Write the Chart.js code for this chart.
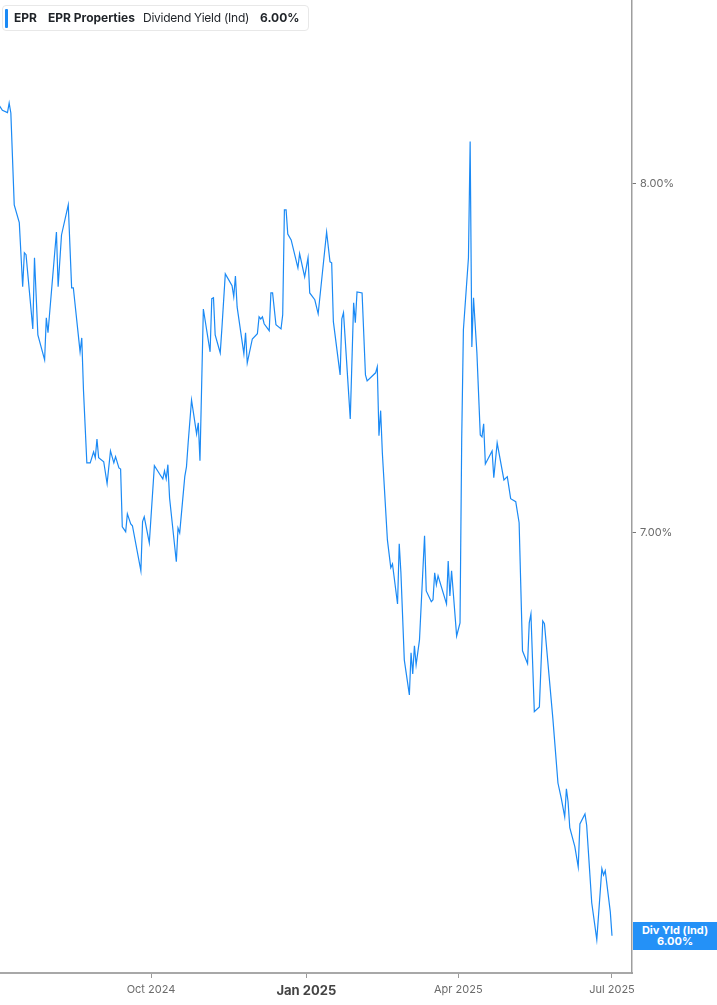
<!DOCTYPE html>
<html>
<head>
<meta charset="utf-8">
<script src="https://cdn.jsdelivr.net/npm/chart.js@4.4.1/dist/chart.umd.min.js"></script>
<style>
  html, body { margin: 0; padding: 0; background: #fff; }
  #wrap { position: relative; width: 717px; height: 1005px; }
  #legend { position: absolute; left: 2px; top: 5px; height: 24px; width: 305px; border: 1px solid #e8e8e8; border-radius: 4px; background: #fff;
    font-family: Inter, "Noto Sans", sans-serif; font-size: 12px; color: #1f2328; line-height: 24px; white-space: nowrap; box-sizing: content-box; }
  #legend .bar { position: absolute; left: 2px; top: 3px; width: 3px; height: 19px; background: #1b8af5; border-radius: 1px; }
  #legend span { position: absolute; top: 0; }
  #valbox { position: absolute; width: 84px; height: 28px; background: #2491f7; color: #fff; font-family: Inter, "Noto Sans", sans-serif;
    font-size: 11px; font-weight: 700; text-align: center; line-height: 11px; padding-top: 3px; box-sizing: border-box; }
</style>
</head>
<body>
<div id="wrap">
  <canvas id="c" width="717" height="1005"></canvas>
  <div id="legend"><div class="bar"></div></div>
  <div id="valbox"></div>
</div>
<script>
const ticker = 'EPR';
const companyName = 'EPR Properties';
const metricName = 'Dividend Yield (Ind)';
const metricShort = 'Div Yld (Ind)';

const dates = [
'2024-07-03','2024-07-05','2024-07-08','2024-07-09','2024-07-10','2024-07-12','2024-07-15','2024-07-17','2024-07-18','2024-07-19',
'2024-07-23','2024-07-24','2024-07-26','2024-07-30','2024-07-31','2024-08-01','2024-08-06','2024-08-07','2024-08-09','2024-08-13',
'2024-08-15','2024-08-16','2024-08-20','2024-08-21','2024-08-22','2024-08-24','2024-08-26','2024-08-28','2024-08-29','2024-08-30',
'2024-08-31','2024-09-03','2024-09-05','2024-09-07','2024-09-09','2024-09-10','2024-09-12','2024-09-13','2024-09-14','2024-09-16',
'2024-09-17','2024-09-19','2024-09-20','2024-09-25','2024-09-26','2024-09-27','2024-09-30','2024-10-03','2024-10-06','2024-10-08',
'2024-10-09','2024-10-10','2024-10-11','2024-10-12','2024-10-16','2024-10-17','2024-10-18','2024-10-21','2024-10-22','2024-10-23',
'2024-10-25','2024-10-28','2024-10-29','2024-10-30','2024-11-01','2024-11-05','2024-11-06','2024-11-07','2024-11-08','2024-11-11',
'2024-11-12','2024-11-14','2024-11-18','2024-11-19','2024-11-20','2024-11-21','2024-11-25','2024-11-26','2024-11-27','2024-11-30',
'2024-12-03','2024-12-04','2024-12-05','2024-12-06','2024-12-07','2024-12-10','2024-12-11','2024-12-12','2024-12-14','2024-12-17',
'2024-12-18','2024-12-19','2024-12-20','2024-12-21','2024-12-23','2024-12-27','2024-12-28','2024-12-31','2025-01-02','2025-01-03',
'2025-01-06','2025-01-08','2025-01-13','2025-01-15','2025-01-16','2025-01-17','2025-01-21','2025-01-22','2025-01-23','2025-01-27',
'2025-01-29','2025-01-30','2025-01-31','2025-02-03','2025-02-05','2025-02-06','2025-02-11','2025-02-12','2025-02-13','2025-02-14',
'2025-02-15','2025-02-18','2025-02-20','2025-02-21','2025-02-24','2025-02-25','2025-02-26','2025-02-28','2025-03-03','2025-03-04',
'2025-03-05','2025-03-06','2025-03-07','2025-03-09','2025-03-12','2025-03-13','2025-03-16','2025-03-17','2025-03-18','2025-03-19',
'2025-03-20','2025-03-25','2025-03-26','2025-03-27','2025-03-28','2025-03-31','2025-04-02','2025-04-03','2025-04-04','2025-04-07',
'2025-04-08','2025-04-09','2025-04-10','2025-04-12','2025-04-14','2025-04-15','2025-04-16','2025-04-17','2025-04-21','2025-04-22',
'2025-04-24','2025-04-28','2025-04-30','2025-05-02','2025-05-05','2025-05-07','2025-05-09','2025-05-12','2025-05-13','2025-05-14',
'2025-05-16','2025-05-19','2025-05-21','2025-05-22','2025-05-27','2025-05-30','2025-06-01','2025-06-03','2025-06-04','2025-06-05',
'2025-06-06','2025-06-09','2025-06-11','2025-06-12','2025-06-15','2025-06-16','2025-06-19','2025-06-22','2025-06-25','2025-06-26',
'2025-06-27','2025-06-30','2025-07-01'
];

const yields = [
8.245,8.228,8.221,8.251,8.220,7.936,7.882,7.691,7.792,7.786,
7.568,7.777,7.551,7.479,7.600,7.557,7.854,7.691,7.845,7.936,
7.688,7.688,7.502,7.542,7.394,7.190,7.190,7.220,7.204,7.256,
7.204,7.193,7.133,7.223,7.190,7.207,7.176,7.173,7.016,7.003,
7.051,7.024,7.019,6.899,7.030,7.043,6.973,7.182,7.160,7.146,
7.168,7.146,7.185,7.094,6.923,7.013,7.000,7.152,7.179,7.245,
7.365,7.270,7.301,7.196,7.626,7.502,7.656,7.659,7.551,7.499,
7.571,7.729,7.694,7.662,7.723,7.632,7.496,7.557,7.470,7.539,
7.554,7.603,7.597,7.603,7.583,7.563,7.673,7.673,7.580,7.568,
7.609,7.921,7.921,7.848,7.830,7.747,7.789,7.720,7.777,7.673,
7.653,7.612,7.854,7.765,7.762,7.589,7.436,7.597,7.615,7.312,
7.644,7.586,7.676,7.673,7.436,7.419,7.442,7.459,7.265,7.335,
7.218,6.981,6.907,6.917,6.812,6.971,6.894,6.668,6.579,6.686,
6.632,6.704,6.655,6.719,6.992,6.846,6.818,6.823,6.894,6.862,
6.886,6.812,6.925,6.833,6.899,6.729,6.763,7.254,7.565,7.777,
8.131,7.516,7.659,7.499,7.267,7.262,7.298,7.187,7.223,7.149,
7.245,7.143,7.152,7.092,7.084,7.027,6.691,6.658,6.763,6.786,
6.537,6.549,6.768,6.761,6.519,6.361,6.323,6.279,6.347,6.315,
6.253,6.208,6.160,6.262,6.286,6.259,6.076,5.991,6.156,6.141,
6.151,6.055,6.000
];

const xTickDates = ['2024-10-01','2025-01-01','2025-04-01','2025-07-01'];
const xTickLabels = ['Oct 2024','Jan 2025','Apr 2025','Jul 2025'];
const yTickValues = [7, 8];
const currentYieldLabel = '6.00%';

// day numbers relative to 2024-07-01
const BASE = Date.UTC(2024, 6, 1);
function dayNum(s) { const p = s.split('-').map(Number); return (Date.UTC(p[0], p[1]-1, p[2]) - BASE) / 86400000; }
const points = dates.map((d, i) => ({ x: dayNum(d), y: yields[i] }));
const xTicks = xTickDates.map(dayNum);

// legend / header (real DOM text)
const legend = document.getElementById('legend');
[[ticker, 11, 700, 0], [companyName, 45, 700, 0], [metricName, 140, 400, -0.25], [currentYieldLabel, 257, 700, 0]].forEach(([t, l, w, ls]) => {
  const s = document.createElement('span'); s.textContent = t; s.style.left = l + 'px'; s.style.fontWeight = w; s.style.letterSpacing = ls + 'px'; legend.appendChild(s);
});
const valbox = document.getElementById('valbox');
const l1 = document.createElement('div'); l1.textContent = metricShort; valbox.appendChild(l1);
const l2 = document.createElement('div'); l2.textContent = currentYieldLabel; valbox.appendChild(l2);

const placeBox = {
  id: 'placeBox',
  afterRender(chart) {
    const ys = chart.scales.y;
    const py = ys.getPixelForValue(yields[yields.length - 1]);
    valbox.style.left = (chart.chartArea.right + 1) + 'px';
    valbox.style.top = Math.round(py - 14) + 'px';
  }
};

new Chart(document.getElementById('c'), {
  type: 'line',
  data: { datasets: [{ data: points, borderColor: '#1b8af5', borderWidth: 1.2, pointRadius: 0, tension: 0, fill: false }] },
  options: {
    responsive: false, animation: false,
    layout: { padding: 0 },
    plugins: { legend: { display: false }, tooltip: { enabled: false } },
    scales: {
      x: {
        type: 'linear', min: 2.576, max: 376.85,
        afterBuildTicks(s) { s.ticks = xTicks.map(v => ({ value: v })); },
        afterFit(s) { s.height = 32; s.paddingLeft = 0; s.paddingRight = 0; },
        grid: { drawOnChartArea: false, tickLength: 5, color: '#9a9a9a', lineWidth: 1 },
        border: { display: true, color: '#a8a8a8', width: 2 },
        ticks: {
          autoSkip: false, maxRotation: 0, padding: 5,
          callback(v) { const i = xTicks.indexOf(v); return i >= 0 ? xTickLabels[i] : ''; },
          color(ctx) { return ctx.tick && ctx.tick.value === xTicks[1] ? '#444' : '#6b6b6b'; },
          font(ctx) { return ctx.tick && ctx.tick.value === xTicks[1] ? { family: 'Inter', size: 13, weight: '700' } : { family: 'Inter', size: 11 }; }
        }
      },
      y: {
        type: 'logarithmic', position: 'right', min: 5.915, max: 8.583,
        afterBuildTicks(s) { s.ticks = yTickValues.map(v => ({ value: v })); },
        afterFit(s) { s.width = 85; s.paddingTop = 0; s.paddingBottom = 0; },
        grid: { drawOnChartArea: false, tickLength: 4, color: '#777', lineWidth: 1 },
        border: { display: true, color: '#9e9e9e', width: 1.5 },
        ticks: {
          padding: 4, color: '#6b6b6b', font: { family: 'Inter', size: 11 },
          callback(v) { return Number(v).toFixed(2) + '%'; }
        }
      }
    }
  },
  plugins: [placeBox]
});
</script>
</body>
</html>
